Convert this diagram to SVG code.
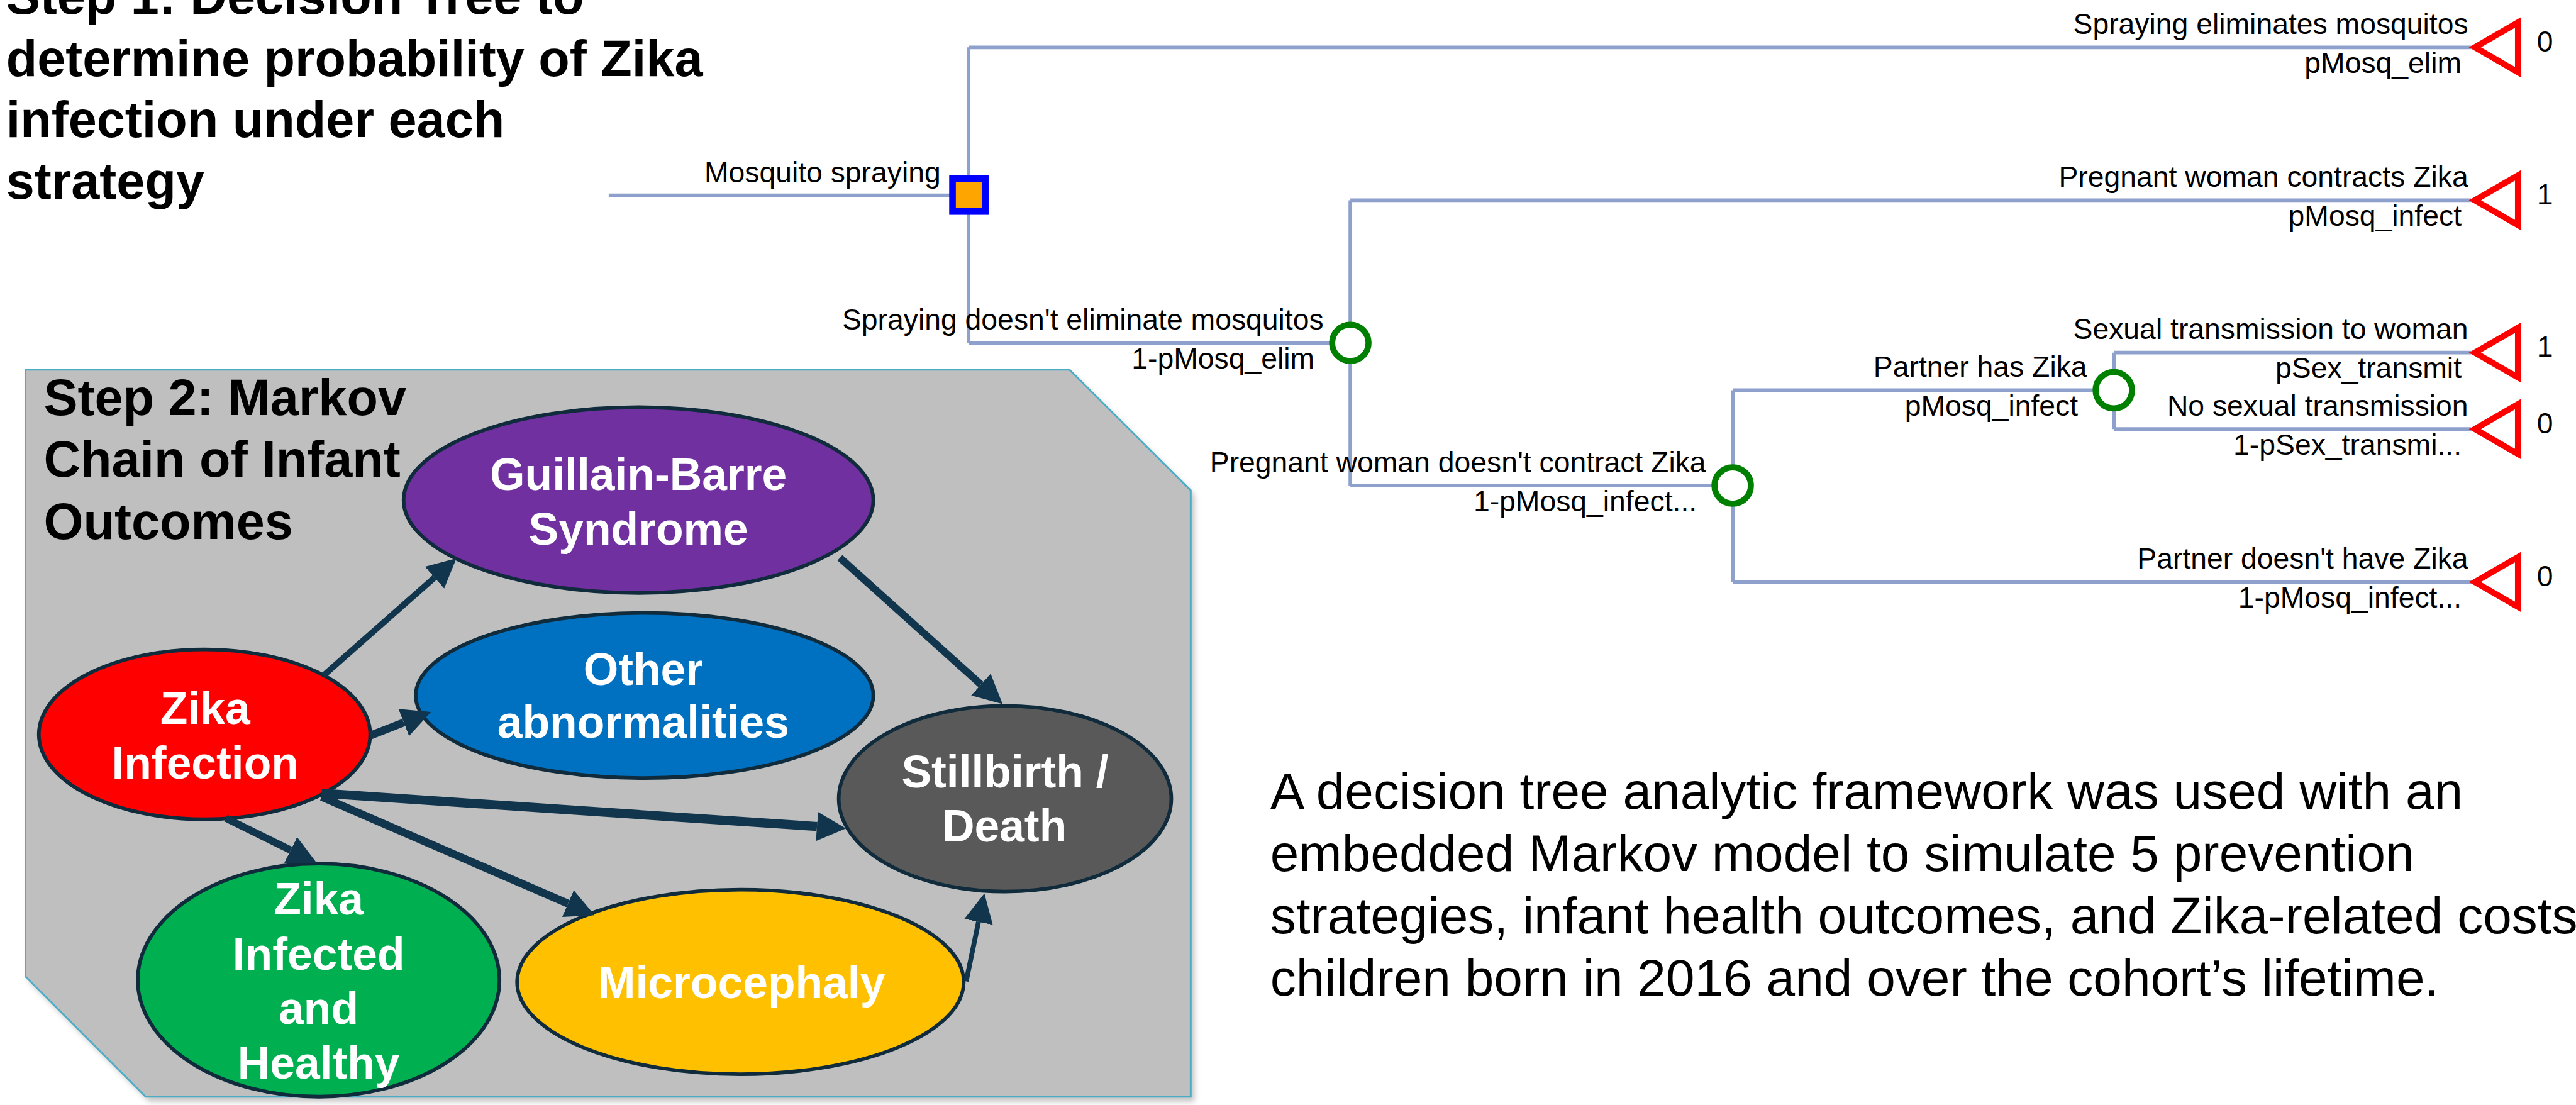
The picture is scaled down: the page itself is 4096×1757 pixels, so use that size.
<svg xmlns="http://www.w3.org/2000/svg" width="4096" height="1757" viewBox="0 0 4096 1757">
<style>
.bt{font-family:"Liberation Sans",Arial,sans-serif;font-weight:bold;font-size:84px;fill:#000}
.lb{font-family:"Liberation Sans",Arial,sans-serif;font-size:48px;fill:#000}
.le{text-anchor:end}
.para{font-family:"Liberation Sans",Arial,sans-serif;font-size:85px;fill:#000}
.nt{font-family:"Liberation Sans",Arial,sans-serif;font-weight:bold;font-size:74px;fill:#fff;text-anchor:middle}
.tl{stroke:#8EA0CC;stroke-width:6;fill:none}
.chance{fill:#fff;stroke:#008000;stroke-width:10}
.term{fill:#fff;stroke:#FF0000;stroke-width:10;stroke-linejoin:miter}
.mk{stroke:#0F2B3C;stroke-width:6}
.ar{stroke:#10354C;fill:none;stroke-linecap:butt}
</style>
<defs>
<marker id="ah" markerUnits="userSpaceOnUse" markerWidth="48" markerHeight="48" viewBox="0 0 48 48" refX="0" refY="24" orient="auto">
<path d="M0,0 L48,24 L0,48 z" fill="#10354C"/>
</marker>
<filter id="blur" x="-5%" y="-5%" width="110%" height="110%"><feGaussianBlur stdDeviation="5"/></filter>
</defs>
<rect width="4096" height="1757" fill="#fff"/>
<g transform="scale(0.965)">
<g id="title1">
<text class="bt" x="10" y="23">Step 1: Decision Tree to</text>
<text class="bt" x="10" y="125">determine probability of Zika</text>
<text class="bt" x="10" y="226">infection under each</text>
<text class="bt" x="10" y="327">strategy</text>
</g>
<g id="tree-lines">
<path class="tl" d="M1003,322 H1596 M1596,78 V565 M1596,78 H4072 M1596,565 H2225 M2225,330 V800 M2225,330 H4072 M2225,800 H2855 M2855,643 V959 M2855,643 H3483 M2855,959 H4072 M3483,581 V707 M3483,581 H4072 M3483,707 H4072"/>
</g>
<g id="decision-root">
<rect x="1569.5" y="294.5" width="54" height="54" fill="#FFA500" stroke="#0000FF" stroke-width="11"/>
<text class="lb le" x="1550" y="300">Mosquito spraying</text>
</g>
<g id="term-elim">
<polygon class="term" points="4078,78 4149,37 4149,119"/>
<text class="lb le" x="4067" y="56">Spraying eliminates mosquitos</text>
<text class="lb le" x="4056" y="120">pMosq_elim</text>
<text class="lb" x="4180" y="85">0</text>
</g>
<g id="chance-noelim">
<circle class="chance" cx="2225" cy="565" r="30"/>
<text class="lb le" x="2181" y="543">Spraying doesn't eliminate mosquitos</text>
<text class="lb le" x="2166" y="607">1-pMosq_elim</text>
</g>
<g id="term-contracts">
<polygon class="term" points="4078,330 4149,289 4149,371"/>
<text class="lb le" x="4067" y="308">Pregnant woman contracts Zika</text>
<text class="lb le" x="4056" y="372">pMosq_infect</text>
<text class="lb" x="4180" y="337">1</text>
</g>
<g id="chance-nocontract">
<circle class="chance" cx="2855" cy="800" r="30"/>
<text class="lb le" x="2811" y="778">Pregnant woman doesn't contract Zika</text>
<text class="lb le" x="2796" y="842">1-pMosq_infect...</text>
</g>
<g id="chance-partner">
<circle class="chance" cx="3483" cy="643" r="30"/>
<text class="lb le" x="3439" y="621">Partner has Zika</text>
<text class="lb le" x="3424" y="685">pMosq_infect</text>
</g>
<g id="term-sexual">
<polygon class="term" points="4078,581 4149,540 4149,622"/>
<text class="lb le" x="4067" y="559">Sexual transmission to woman</text>
<text class="lb le" x="4056" y="623">pSex_transmit</text>
<text class="lb" x="4180" y="588">1</text>
</g>
<g id="term-nosexual">
<polygon class="term" points="4078,707 4149,666 4149,748"/>
<text class="lb le" x="4067" y="685">No sexual transmission</text>
<text class="lb le" x="4056" y="749">1-pSex_transmi...</text>
<text class="lb" x="4180" y="714">0</text>
</g>
<g id="term-nopartner">
<polygon class="term" points="4078,959 4149,918 4149,1000"/>
<text class="lb le" x="4067" y="937">Partner doesn't have Zika</text>
<text class="lb le" x="4056" y="1001">1-pMosq_infect...</text>
<text class="lb" x="4180" y="966">0</text>
</g>
<g id="markov-panel">
<polygon points="48,617 1768,617 1968,816 1968,1815 246,1815 48,1617" fill="#7a7a7a" opacity="0.45" filter="url(#blur)"/>
<polygon points="42,609 1762,609 1962,808 1962,1807 240,1807 42,1609" fill="#BFBFBF" stroke="#4BACC6" stroke-width="3"/>
<text class="bt" x="72" y="684">Step 2: Markov</text>
<text class="bt" x="72" y="786">Chain of Infant</text>
<text class="bt" x="72" y="888">Outcomes</text>
</g>
<g id="node-gbs">
<ellipse class="mk" cx="1052" cy="824" rx="387" ry="153" fill="#7030A0"/>
<text class="nt" x="1052" y="807">Guillain-Barre</text>
<text class="nt" x="1052" y="897">Syndrome</text>
</g>
<g id="node-other">
<ellipse class="mk" cx="1062" cy="1146" rx="377" ry="136" fill="#0070C0"/>
<text class="nt" x="1060" y="1129">Other</text>
<text class="nt" x="1060" y="1216">abnormalities</text>
</g>
<g id="node-zika">
<ellipse class="mk" cx="337" cy="1210" rx="273" ry="140" fill="#FF0000"/>
<text class="nt" x="338" y="1193">Zika</text>
<text class="nt" x="338" y="1283">Infection</text>
</g>
<g id="node-stillbirth">
<ellipse class="mk" cx="1656" cy="1316" rx="274" ry="153" fill="#595959"/>
<text class="nt" x="1656" y="1297">Stillbirth /</text>
<text class="nt" x="1655" y="1387">Death</text>
</g>
<g id="node-healthy">
<ellipse class="mk" cx="525" cy="1615" rx="298" ry="192" fill="#00B050"/>
<text class="nt" x="525" y="1507">Zika</text>
<text class="nt" x="525" y="1598">Infected</text>
<text class="nt" x="525" y="1687">and</text>
<text class="nt" x="525" y="1777">Healthy</text>
</g>
<g id="node-micro">
<ellipse class="mk" cx="1220" cy="1618" rx="368" ry="152" fill="#FFC000"/>
<text class="nt" x="1222" y="1645">Microcephaly</text>
</g>
<g id="connectors">
<path class="ar" stroke-width="10" d="M533,1113 L716,951.7" marker-end="url(#ah)"/>
<path class="ar" stroke-width="13" d="M610,1212 L665.3,1190.4" marker-end="url(#ah)"/>
<path class="ar" stroke-width="12" d="M1384,919 L1616.3,1127.9" marker-end="url(#ah)"/>
<path class="ar" stroke-width="15" d="M530,1307 L1346.1,1361.8" marker-end="url(#ah)"/>
<path class="ar" stroke-width="13" d="M530,1313 L935.9,1488.9" marker-end="url(#ah)"/>
<path class="ar" stroke-width="12" d="M372,1348 L478.9,1400.8" marker-end="url(#ah)"/>
<path class="ar" stroke-width="8" d="M1592,1617 L1612.3,1519" marker-end="url(#ah)"/>
</g>
<g id="description">
<text class="para" x="2093" y="1333">A decision tree analytic framework was used with an</text>
<text class="para" x="2093" y="1435.5">embedded Markov model to simulate 5 prevention</text>
<text class="para" x="2093" y="1538">strategies, infant health outcomes, and Zika-related costs</text>
<text class="para" x="2093" y="1640.5">children born in 2016 and over the cohort’s lifetime.</text>
</g>
</g>
</svg>
